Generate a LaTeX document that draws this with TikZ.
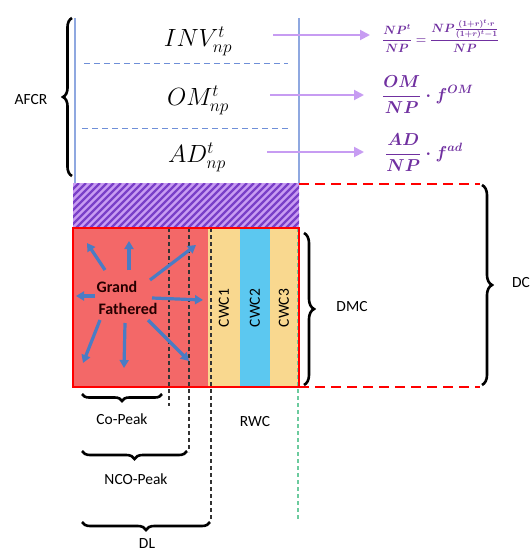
\documentclass[tikz,border=0pt]{standalone}
\usepackage{fontspec}
\setsansfont{Carlito}
\usetikzlibrary{arrows.meta,decorations.pathreplacing}
\definecolor{vline}{HTML}{8FA8E0}
\definecolor{hdash}{HTML}{6F8FD8}
\definecolor{parrow}{HTML}{C79CF2}
\definecolor{pformula}{HTML}{7030A0}
\definecolor{hatchbg}{HTML}{C99CF2}
\definecolor{hatchfg}{HTML}{7A3FC8}
\definecolor{gfred}{HTML}{F36868}
\definecolor{cwcyellow}{HTML}{F9D88F}
\definecolor{cwccyan}{HTML}{5CC8F0}
\definecolor{barrow}{HTML}{4A7CC4}
\definecolor{gdash}{HTML}{6CCB9E}
\tikzset{
  vlinestyle/.style={draw=vline, line width=1.3pt},
  hdashstyle/.style={draw=hdash, line width=1pt, dash pattern=on 6pt off 4pt},
  parrowstyle/.style={draw=parrow, line width=2pt, -{Triangle[width=10pt,length=10pt]}},
  mathlbl/.style={font=\fontsize{23}{25}\selectfont, inner sep=0pt},
  formula/.style={text=pformula, anchor=west, inner sep=0pt},
  sflbl/.style={font=\sffamily\fontsize{15.5}{17}\selectfont, inner sep=0pt},
  bracestyle/.style={draw=black, line width=2.6pt, decorate},
  barrowstyle/.style={draw=barrow, line width=3.2pt, -{Triangle[width=9pt,length=8pt]}},
  bdash/.style={draw=black!80, line width=1.1pt, dash pattern=on 4pt off 3pt},
  gdashstyle/.style={draw=gdash, line width=1.1pt, dash pattern=on 4pt off 3pt},
  rdash/.style={draw=red, line width=2.4pt, dash pattern=on 10pt off 6pt},
  hatchline/.style={draw=hatchfg, line width=2.3pt},
}
\begin{document}
\begin{tikzpicture}[x=1pt,y=-1pt]
\useasboundingbox (0,0) rectangle (531,552);
\clip (0,0) rectangle (531,552);
% top frame lines
\coordinate (L1t) at (75,18); \coordinate (L1b) at (75,183);
\coordinate (R1t) at (299,18); \coordinate (R1b) at (299,183);
\draw[vlinestyle] (L1t) -- (L1b);
\draw[vlinestyle] (R1t) -- (R1b);
\coordinate (d1a) at (84,63); \coordinate (d1b) at (288,63);
\coordinate (d2a) at (82,128); \coordinate (d2b) at (288,128);
\draw[hdashstyle] (d1a) -- (d1b);
\draw[hdashstyle] (d2a) -- (d2b);
% labels in top box
\node[mathlbl] (inv) at (198,41) {$INV_{np}^{t}$};
\node[mathlbl] (om) at (198,100) {$OM_{np}^{t}$};
\node[mathlbl] (ad) at (197,157) {$AD_{np}^{t}$};
% purple arrows and formulas
\node[formula, font=\fontsize{12}{14}\selectfont\boldmath] (f1) at (382,36) {$\displaystyle\frac{NP^{t}}{NP}=\frac{NP\frac{(1+r)^{t}\cdot r}{(1+r)^{t}-1}}{NP}$};
\node[formula, font=\fontsize{17}{19}\selectfont\boldmath] (f2) at (382,95) {$\displaystyle\frac{OM}{NP}\cdot f^{OM}$};
\node[formula, font=\fontsize{17}{19}\selectfont\boldmath] (f3) at (385,153) {$\displaystyle\frac{AD}{NP}\cdot f^{ad}$};
\coordinate (pa1) at (273,35); \coordinate (pa1e) at (370,35);
\coordinate (pa2) at (270,95); \coordinate (pa2e) at (364,95);
\coordinate (pa3) at (267,152); \coordinate (pa3e) at (364,152);
\draw[parrowstyle] (pa1) -- (pa1e);
\draw[parrowstyle] (pa2) -- (pa2e);
\draw[parrowstyle] (pa3) -- (pa3e);
% hatched block
\fill[hatchbg] (73,183) rectangle (299,228);
\begin{scope}
\clip (73,183) rectangle (299,228);
\foreach \s in {0,7,...,330} {\draw[hatchline] (\s+30,183) -- (\s-20,233);}
\end{scope}
% main blocks
\fill[gfred] (73,228) rectangle (208,387);
\fill[cwcyellow] (208,228) rectangle (240,387);
\fill[cwccyan] (240,228) rectangle (270,387);
\fill[cwcyellow] (270,228) rectangle (299,387);
% dashed lines
\coordinate (k1t) at (169,228); \coordinate (k1b) at (169,406);
\coordinate (k2t) at (189,228); \coordinate (k2b) at (189,452);
\coordinate (k3t) at (211,228); \coordinate (k3b) at (211,521);
\coordinate (gt) at (298,228); \coordinate (gb) at (298,521);
\draw[bdash] (k1t) -- (k1b);
\draw[bdash] (k2t) -- (k2b);
\draw[bdash] (k3t) -- (k3b);
\draw[gdashstyle] (gt) -- (gb);
\draw[red, line width=2pt] (73,228) rectangle (299,387);
% CWC labels
\node[sflbl, rotate=90] (cwc1) at (224,308) {CWC1};
\node[sflbl, rotate=90] (cwc2) at (255,308) {CWC2};
\node[sflbl, rotate=90] (cwc3) at (284,308) {CWC3};
% grand fathered arrows
\coordinate (a1s) at (105,270); \coordinate (a1e) at (87,243);
\coordinate (a2s) at (129,270); \coordinate (a2e) at (129,241);
\coordinate (a3s) at (150,280); \coordinate (a3e) at (196,245);
\coordinate (a4s) at (95,296); \coordinate (a4e) at (76,296);
\coordinate (a5s) at (152,298); \coordinate (a5e) at (203,300);
\coordinate (a6s) at (100,320); \coordinate (a6e) at (83,363);
\coordinate (a7s) at (125,323); \coordinate (a7e) at (124,368);
\coordinate (a8s) at (148,320); \coordinate (a8e) at (189,361);
\foreach \i in {1,...,8} {\draw[barrowstyle] (a\i s) -- (a\i e);}
\node[font=\sffamily\bfseries\fontsize{16}{18}\selectfont, text=black!85!red, inner sep=0pt] (gf1) at (117,287) {Grand};
\node[font=\sffamily\bfseries\fontsize{16}{18}\selectfont, text=black!85!red, inner sep=0pt] (gf2) at (128,309) {Fathered};
% red dashed
\coordinate (rd1a) at (299,184); \coordinate (rd1b) at (480,184);
\coordinate (rd2a) at (299,387); \coordinate (rd2b) at (480,387);
\draw[rdash] (rd1a) -- (rd1b);
\draw[rdash] (rd2a) -- (rd2b);
% braces
\coordinate (afb) at (72,176); \coordinate (aft) at (72,18);
\draw[bracestyle, decoration={brace, amplitude=9pt}] (afb) -- (aft);
\node[sflbl] (afcr) at (31,100) {AFCR};
\coordinate (dmt) at (304,233); \coordinate (dmb) at (304,385);
\draw[bracestyle, decoration={brace, amplitude=10pt}] (dmt) -- (dmb);
\node[sflbl] (dmc) at (352,307) {DMC};
\coordinate (dct) at (482,185); \coordinate (dcb) at (482,385);
\draw[bracestyle, decoration={brace, amplitude=10pt}] (dct) -- (dcb);
\node[sflbl, anchor=west] (dc) at (512,283) {DC};
\coordinate (cpr) at (162,394); \coordinate (cpl) at (82,394);
\draw[bracestyle, decoration={brace, amplitude=7pt}] (cpr) -- (cpl);
\node[sflbl] (copeak) at (122,419) {Co-Peak};
\coordinate (ncr) at (187,451); \coordinate (ncl) at (82,451);
\draw[bracestyle, decoration={brace, amplitude=8pt}] (ncr) -- (ncl);
\node[sflbl] (ncopeak) at (136,479) {NCO-Peak};
\coordinate (dlr) at (210,522); \coordinate (dll) at (82,522);
\draw[bracestyle, decoration={brace, amplitude=8pt}] (dlr) -- (dll);
\node[sflbl] (dl) at (147,544) {DL};
\node[sflbl] (rwc) at (255,422) {RWC};
\end{tikzpicture}
\end{document}
